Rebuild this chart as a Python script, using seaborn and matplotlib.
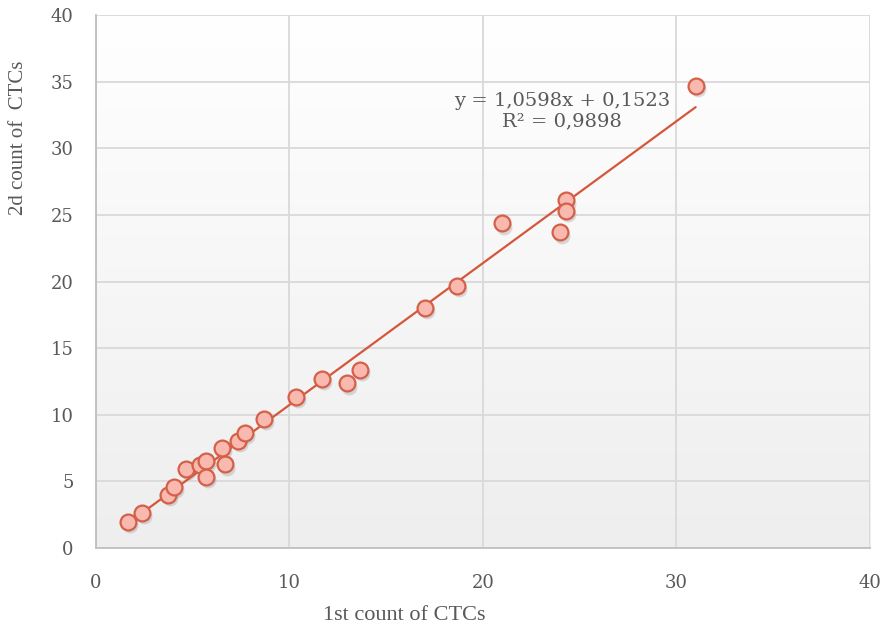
import numpy as np
import pandas as pd
import matplotlib
matplotlib.use('Agg')
import matplotlib.pyplot as plt
import matplotlib.transforms as mtransforms
from matplotlib.colors import LinearSegmentedColormap
import seaborn as sns

# values
first_count = [1.65, 2.38, 3.72, 4.03, 4.65, 5.37, 5.68, 5.68, 6.67, 6.51, 7.34, 7.70,
               8.68, 10.34, 11.70, 13.00, 13.64, 17.00, 18.67, 21.00, 24.32, 24.32,
               24.01, 31.00]
second_count = [1.95, 2.63, 3.98, 4.58, 5.93, 6.23, 6.53, 5.33, 6.30, 7.51, 8.03, 8.63,
                9.68, 11.36, 12.69, 12.36, 13.36, 18.04, 19.69, 24.38, 26.08, 25.30,
                23.70, 34.70]
ticks = [0, 5, 10, 15, 20, 25, 30, 35, 40]
xticks = [0, 10, 20, 30, 40]
equation = "y = 1,0598x + 0,1523\nR² = 0,9898"

df = pd.DataFrame({'first': first_count, 'second': second_count})

sns.set_style('white')
plt.rcParams['font.family'] = ['Liberation Serif', 'DejaVu Serif']

fig = plt.figure(figsize=(8.94, 6.26), dpi=100)
ax = fig.add_axes([0.107, 0.1246, 0.866, 0.8514])

# soft vertical gradient behind the plot
cmap = LinearSegmentedColormap.from_list('bg', ['#EEEEEE', '#FFFFFF'])
grad = np.linspace(0, 1, 256).reshape(-1, 1)
ax.imshow(grad, extent=[0, 40, 0, 40], origin='lower', aspect='auto', cmap=cmap, zorder=0)

for t in ticks:
    ax.axhline(t, color='#D9D9D9', lw=1.3, zorder=1)
for t in xticks:
    ax.axvline(t, color='#D9D9D9', lw=1.3, zorder=1)

# marker shadows
shadow = mtransforms.offset_copy(ax.transData, fig=fig, x=1.5, y=-2.5, units='points')
ax.scatter(df['first'], df['second'], s=130, color='#777777', alpha=0.25,
           linewidths=0, transform=shadow, zorder=2)

sns.regplot(data=df, x='first', y='second', scatter=False, ci=None, ax=ax,
            line_kws=dict(color='#D4573B', lw=1.6, zorder=3))
sns.scatterplot(data=df, x='first', y='second', ax=ax, s=130, color='#F9B9AE',
                edgecolor='#D4604A', linewidth=1.6, zorder=4)

ax.set_xlim(0, 40)
ax.set_ylim(0, 40)
ax.set_xticks(xticks)
ax.set_yticks(ticks)
ax.tick_params(length=0, labelcolor='#595959')
ax.tick_params(axis='x', pad=19)
ax.tick_params(axis='y', pad=16)
for lab in ax.get_xticklabels() + ax.get_yticklabels():
    lab.set_fontfamily('DejaVu Serif')
    lab.set_fontsize(13)

for side in ['top', 'right']:
    ax.spines[side].set_visible(False)
for side in ['left', 'bottom']:
    ax.spines[side].set_color('#BFBFBF')
    ax.spines[side].set_linewidth(1.3)

ax.set_xlabel("1st count of CTCs", fontsize=16, color='#595959')
ax.set_ylabel("2d count of  CTCs", fontsize=15, color='#595959')
ax.xaxis.set_label_coords(0.398, -0.108)
ax.yaxis.set_label_coords(-0.087, 0.77)

ax.text(0.602, 0.82, equation, transform=ax.transAxes, ha='center', va='center',
        fontsize=14, color='#595959', linespacing=1.15, zorder=5,
        family='DejaVu Serif')

plt.savefig("out.png", dpi=100)
plt.close()
